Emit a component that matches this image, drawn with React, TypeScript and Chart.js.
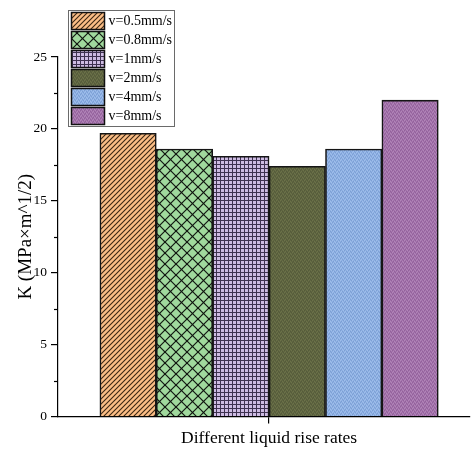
import { useEffect, useRef } from 'react';
import { Chart, registerables } from 'chart.js';

Chart.register(...registerables);

// Series: fracture toughness K for each liquid rise rate
const rateLabels = ['v=0.5mm/s', 'v=0.8mm/s', 'v=1mm/s', 'v=2mm/s', 'v=4mm/s', 'v=8mm/s'];
const kValues = [19.7, 18.6, 18.1, 17.4, 18.6, 22.0];
const majorTicks = [0, 5, 10, 15, 20, 25];
const minorTicks = [2.5, 7.5, 12.5, 17.5, 22.5];
const xTitle = 'Different liquid rise rates';
const yTitle = 'K (MPa\u00d7m^1/2)';

const SERIF = '"Liberation Serif", "Times New Roman", serif';

type FillStyle = {
  kind: 'hatch' | 'cross' | 'grid' | 'speckle';
  base: string;
  ink: string;
  ink2?: string;
  size: number;
};

const fillStyles: FillStyle[] = [
  { kind: 'hatch', base: '#FBBE86', ink: '#3a2612', size: 5 },
  { kind: 'cross', base: '#A0D99D', ink: '#101510', size: 11 },
  { kind: 'grid', base: '#CDBBE2', ink: '#3e3150', size: 4 },
  { kind: 'speckle', base: '#5F6541', ink: '#6C7249', ink2: '#555B3A', size: 4 },
  { kind: 'speckle', base: '#8DB0E3', ink: '#A0BEEB', ink2: '#7D9FD4', size: 4 },
  { kind: 'speckle', base: '#A272AA', ink: '#B285B8', ink2: '#93619B', size: 4 },
];

function makePattern(ctx: CanvasRenderingContext2D, f: FillStyle): CanvasPattern | string {
  const tile = document.createElement('canvas');
  tile.width = f.size;
  tile.height = f.size;
  const t = tile.getContext('2d');
  if (!t) return f.base;
  const s = f.size;
  t.fillStyle = f.base;
  t.fillRect(0, 0, s, s);
  t.strokeStyle = f.ink;
  t.fillStyle = f.ink;
  if (f.kind === 'hatch') {
    t.lineWidth = 1.1;
    for (const d of [-s, 0, s]) {
      t.beginPath();
      t.moveTo(d - 1, s + 1);
      t.lineTo(d + s + 1, -1);
      t.stroke();
    }
  } else if (f.kind === 'cross') {
    t.lineWidth = 1.2;
    for (const d of [-s, 0, s]) {
      t.beginPath();
      t.moveTo(d - 1, -1);
      t.lineTo(d + s + 1, s + 1);
      t.stroke();
      t.beginPath();
      t.moveTo(d - 1, s + 1);
      t.lineTo(d + s + 1, -1);
      t.stroke();
    }
  } else if (f.kind === 'grid') {
    t.fillRect(0, 0, s, 1);
    t.fillRect(0, 0, 1, s);
  } else {
    const light: Array<[number, number]> = [[0, 0], [2, 1], [1, 3], [3, 2]];
    const dark: Array<[number, number]> = [[1, 1], [3, 0], [0, 2], [2, 3]];
    light.forEach(([x, y]) => t.fillRect(x, y, 1, 1));
    t.fillStyle = f.ink2 || f.ink;
    dark.forEach(([x, y]) => t.fillRect(x, y, 1, 1));
  }
  return ctx.createPattern(tile, 'repeat') || f.base;
}

// Small y-axis ticks between the labelled ones
const minorTickPlugin = {
  id: 'minorTicks',
  afterDraw(chart: any) {
    const y = chart.scales.y;
    const ctx = chart.ctx;
    ctx.save();
    ctx.strokeStyle = '#000';
    ctx.lineWidth = 1.2;
    for (const v of minorTicks) {
      const py = Math.round(y.getPixelForValue(v)) + 0.5;
      ctx.beginPath();
      ctx.moveTo(chart.chartArea.left - 4, py);
      ctx.lineTo(chart.chartArea.left, py);
      ctx.stroke();
    }
    ctx.restore();
  },
};

// Axis caption centred under the bar group
const groupCaptionPlugin = {
  id: 'groupCaption',
  afterDraw(chart: any) {
    const x = chart.scales.x;
    const ctx = chart.ctx;
    ctx.save();
    ctx.fillStyle = '#000';
    ctx.font = `17.5px ${SERIF}`;
    ctx.textAlign = 'center';
    ctx.textBaseline = 'middle';
    ctx.fillText(xTitle, x.getPixelForValue(0), 438);
    ctx.restore();
  },
};

// Boxed legend sitting in the upper-left corner, over the axis
const boxLegendPlugin = {
  id: 'boxLegend',
  afterDraw(chart: any) {
    const ctx = chart.ctx;
    const left = 68.5;
    const top = 10.5;
    const width = 106;
    const rowH = 19;
    const sw = 33;
    const sh = 17;
    const sets = chart.data.datasets;
    const height = 116;
    ctx.save();
    ctx.fillStyle = '#fff';
    ctx.fillRect(left, top, width, height);
    ctx.strokeStyle = '#6a6a6a';
    ctx.lineWidth = 1;
    ctx.strokeRect(left, top, width, height);
    ctx.font = `14px ${SERIF}`;
    ctx.textBaseline = 'middle';
    sets.forEach((ds: any, i: number) => {
      const sx = left + 3;
      const sy = top + 2 + i * rowH;
      ctx.fillStyle = ds.backgroundColor;
      ctx.fillRect(sx, sy, sw, sh);
      ctx.strokeStyle = '#111';
      ctx.lineWidth = 1.5;
      ctx.strokeRect(sx, sy, sw, sh);
      ctx.fillStyle = '#000';
      ctx.fillText(ds.label, sx + sw + 4, sy + sh / 2 + 0.5);
    });
    ctx.restore();
  },
};

export default function App() {
  const canvasRef = useRef<HTMLCanvasElement | null>(null);

  useEffect(() => {
    const canvas = canvasRef.current;
    if (!canvas) return;
    const ctx = canvas.getContext('2d');
    if (!ctx) return;

    const datasets = rateLabels.map((label, i) => ({
      label,
      data: [{ x: 0, y: kValues[i] }],
      backgroundColor: makePattern(ctx, fillStyles[i]),
      borderColor: '#151515',
      borderWidth: 1.6,
      barThickness: 56.4,
    }));

    const chart = new Chart(ctx, {
      type: 'bar',
      data: { datasets },
      plugins: [minorTickPlugin, groupCaptionPlugin, boxLegendPlugin],
      options: {
        responsive: false,
        animation: false,
        devicePixelRatio: 1,
        layout: { padding: { top: 57, right: 2, bottom: 0, left: 0 } },
        plugins: {
          legend: { display: false },
          tooltip: { enabled: false },
        },
        scales: {
          x: {
            type: 'linear',
            offset: false,
            min: -3.74,
            max: 3.56,
            afterBuildTicks: (s: any) => {
              s.ticks = [{ value: 0 }];
            },
            afterFit: (s: any) => {
              s.height = 37.5;
            },
            ticks: { callback: () => '', font: { family: SERIF, size: 13 } },
            grid: {
              offset: false,
              drawOnChartArea: false,
              drawTicks: true,
              tickLength: 7,
              color: '#000',
              lineWidth: 1.2,
            },
            border: { display: true, color: '#000', width: 1.2 },
            title: { display: false },
          },
          y: {
            min: 0,
            max: 25,
            afterBuildTicks: (s: any) => {
              s.ticks = majorTicks.map((v) => ({ value: v }));
            },
            afterFit: (s: any) => {
              s.width = 58;
            },
            ticks: {
              color: '#000',
              padding: 4,
              font: { family: SERIF, size: 13.5 },
            },
            grid: {
              drawOnChartArea: false,
              drawTicks: true,
              tickLength: 7,
              color: '#000',
              lineWidth: 1.2,
            },
            border: { display: true, color: '#000', width: 1.2 },
            title: {
              display: true,
              text: yTitle,
              color: '#000',
              font: { family: SERIF, size: 19 },
              padding: { top: 15, bottom: 0 },
            },
          },
        },
      },
    } as any);

    return () => chart.destroy();
  }, []);

  return (
    <div style={{ position: 'fixed', left: 0, top: 0, width: 472, height: 454, background: '#fff' }}>
      <canvas ref={canvasRef} width={472} height={454} style={{ display: 'block' }} />
    </div>
  );
}
